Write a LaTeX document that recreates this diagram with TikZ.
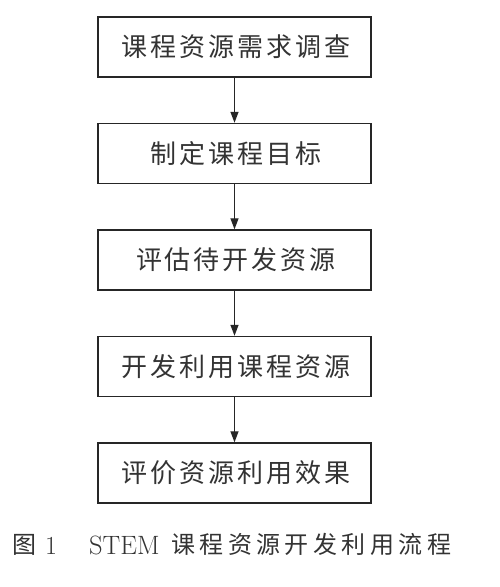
\documentclass[tikz,border=0pt]{standalone}
\usepackage{fontspec}
\newfontfamily\cjk{Noto Sans CJK SC}
\newfontfamily\cjkwide{Noto Sans CJK SC}[LetterSpace=11.5]
\newfontfamily\cjkcap{Noto Sans CJK SC}[LetterSpace=18.5]
\usetikzlibrary{arrows.meta}
\begin{document}
\begin{tikzpicture}[x=1pt,y=1pt,
  stepbox/.style={draw=black!85, line width=1.4pt, minimum width=273pt, minimum height=60pt, inner sep=0pt, font=\fontsize{26}{30}\selectfont\cjkwide, text=black!80},
  captext/.style={anchor=base west, inner sep=0pt, text=black!80},
  conn/.style={-{Triangle[length=11pt,width=8pt]}, line width=1.3pt, draw=black!85}]
\useasboundingbox (0,0) rectangle (500,587);
\node[stepbox] (s1) at (234.5,540) {\hspace{3pt}课程资源需求调查};
\node[stepbox] (s2) at (234.5,433.5) {\hspace{3pt}制定课程目标};
\node[stepbox] (s3) at (234.5,327) {\hspace{3pt}评估待开发资源};
\node[stepbox] (s4) at (234.5,220.5) {\hspace{3pt}开发利用课程资源};
\node[stepbox] (s5) at (234.5,114) {\hspace{3pt}评价资源利用效果};
\draw[conn] (s1) -- (s2);
\draw[conn] (s2) -- (s3);
\draw[conn] (s3) -- (s4);
\draw[conn] (s4) -- (s5);
\node[captext] (capfig) at (12,34) {\fontsize{24}{28}\selectfont\cjk 图};
\node[captext] (capnum) at (45,32) {\fontsize{26}{30}\selectfont 1};
\node[captext] (capstem) at (89,32) {\fontsize{26.5}{30}\selectfont STEM};
\node[captext] (captitle) at (171,34) {\fontsize{24}{28}\selectfont\cjkcap 课程资源开发利用流程};
\end{tikzpicture}
\end{document}
